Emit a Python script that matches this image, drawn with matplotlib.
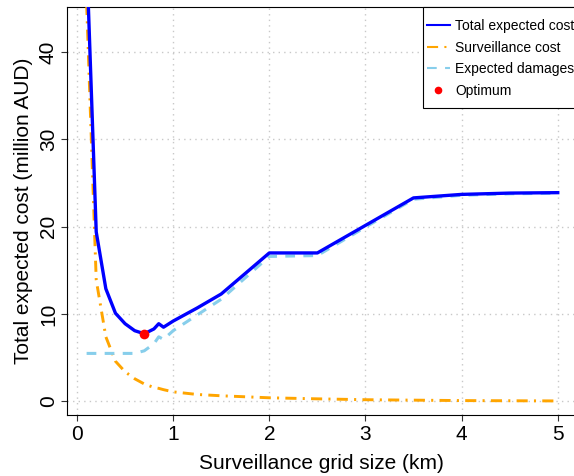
import matplotlib
matplotlib.use("Agg")
import matplotlib.pyplot as plt
from matplotlib.patches import Rectangle

# grid sizes (km) and cost curves (million AUD)
grid_km = [0.1, 0.2, 0.3, 0.4, 0.5, 0.6, 0.7, 0.8, 0.85, 0.9, 1.0,
           1.25, 1.5, 2.0, 2.5, 3.0, 3.5, 4.0, 4.5, 5.0]
total_cost = [51.0, 19.4, 12.9, 10.1, 8.9, 8.1, 7.75, 8.3, 8.9, 8.5, 9.2,
              10.7, 12.3, 17.0, 17.0, 20.15, 23.3, 23.7, 23.85, 23.9]
surveillance_cost = [45.5, 13.9, 7.4, 4.6, 3.4, 2.6, 2.0, 1.6, 1.5, 1.35, 1.1,
                     0.8, 0.65, 0.42, 0.3, 0.2, 0.15, 0.1, 0.08, 0.06]
expected_damages = [5.5, 5.5, 5.5, 5.5, 5.5, 5.5, 5.8, 6.6, 7.4, 7.1, 8.1,
                    9.9, 11.7, 16.6, 16.7, 19.95, 23.15, 23.6, 23.77, 23.84]
optimum_x = [0.7]
optimum_y = [7.75]

x_ticks = [0, 1, 2, 3, 4, 5]
y_ticks = [0, 10, 20, 30, 40]

plt.rcParams["font.family"] = ["Liberation Sans", "DejaVu Sans"]
plt.rcParams["lines.scale_dashes"] = False

W, H = 574, 476
fig = plt.figure(figsize=(W / 100, H / 100), dpi=100)
ax = fig.add_axes([67 / W, (H - 415) / H, (576 - 67) / W, (415 - 7) / H])

# ── curves ──────────────────────────────────────────────────────
ax.plot(grid_km, surveillance_cost, color="#FFA500", lw=2.1,
        linestyle=(0, (8, 4.5, 1.5, 4.5)), label="Surveillance cost", zorder=3)
ax.plot(grid_km, expected_damages, color="#87CEEB", lw=2.2,
        linestyle=(0, (7, 6)), label="Expected damages", zorder=3)
ax.plot(grid_km, total_cost, color="#0000FF", lw=2.4,
        label="Total expected cost", zorder=4)
ax.plot(optimum_x, optimum_y, "o", color="#FF0000", ms=7, mec="none",
        label="Optimum", zorder=5)

ax.set_xlim(-0.104, 5.19)
ax.set_ylim(-1.55, 45.15)
ax.set_xticks(x_ticks)
ax.set_yticks(y_ticks)
ax.grid(True, color="#C8C8C8", linestyle=(0, (1, 3)), lw=1.0)
ax.set_axisbelow(True)

for side in ["left", "bottom", "top", "right"]:
    ax.spines[side].set_linewidth(0.8)
    ax.spines[side].set_color("black")

ax.tick_params(axis="both", direction="out", length=4, width=0.8,
               labelsize=15, color="#333333")
ax.tick_params(axis="x", pad=3.5)
ax.tick_params(axis="y", pad=2.5)
for lab in ax.get_yticklabels():
    lab.set_rotation(90)
    lab.set_va("center")

ax.set_xlabel("Surveillance grid size (km)", fontsize=15, labelpad=7)
ax.set_ylabel("Total expected cost (million AUD)", fontsize=15, labelpad=4)

# legend box drawn separately so the padding matches the reference
ax.add_patch(Rectangle(((423 - 67) / 509, (415 - 108) / 408), 0.5,
                       (108 - 7) / 408, transform=ax.transAxes,
                       facecolor="white", edgecolor="black", lw=0.8,
                       clip_on=False, zorder=6))
handles, labels = ax.get_legend_handles_labels()
order = [2, 0, 1, 3]
leg = ax.legend([handles[i] for i in order], [labels[i] for i in order],
                loc="upper left",
                bbox_to_anchor=((427 - 67) / 509, (415 - 19) / 408),
                fontsize=10, frameon=False, borderaxespad=0, borderpad=0,
                handlelength=1.65, handletextpad=0.36, labelspacing=0.55)
leg.set_zorder(7)
for ln in leg.get_lines():
    ln.set_linewidth(1.5)
    ln.set_markersize(5.5)

fig.savefig("out.png", dpi=100)
